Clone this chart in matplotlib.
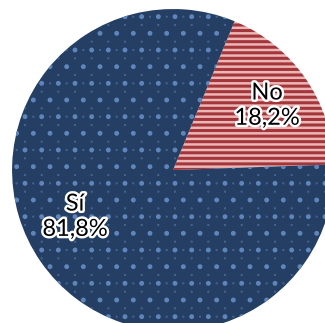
import numpy as np
import matplotlib
matplotlib.use("Agg")
import matplotlib.pyplot as plt
import matplotlib.patheffects as pe
import matplotlib.hatch as mhatch
from matplotlib.path import Path

labels = ["No", "Sí"]
values = [18.2, 81.8]
pct_text = ["18,2%", "81,8%"]

colors = ["#ebb7b6", "#243f63"]
hatch_cols = ["#a4353a", "#5f85ba"]
hatches = ["---", "."]


# dotted texture like the office "small confetti" fill: staggered rows,
# rows twice as dense as the columns
class DiamondDots(mhatch.HatchPatternBase):
	def __init__(self, hatch, density):
		self.n = hatch.count('.') * density
		circ = Path.unit_circle()
		self.sv = circ.vertices
		self.sc = circ.codes
		if self.n == 0:
			self.num_vertices = 0
		else:
			nshapes = (self.n + 1) * (self.n + 1) + self.n * self.n
			self.num_vertices = nshapes * len(self.sv)

	def set_vertices_and_codes(self, vertices, codes):
		step = 1.0 / self.n
		shape = self.sv * 0.002
		vparts = []
		cparts = []
		for row in range(2 * self.n + 1):
			if row % 2 == 0:
				cols = np.linspace(0, 1, self.n + 1)
			else:
				cols = np.linspace(step / 2, 1 - step / 2, self.n)
			for c in cols:
				vparts.append(shape + [c, row * step / 2])
				cparts.append(self.sc)
		np.concatenate(vparts, out=vertices)
		np.concatenate(cparts, out=codes)


mhatch._hatch_types = [DiamondDots if t is mhatch.SmallCircles else t
                       for t in mhatch._hatch_types]

plt.rcParams["hatch.linewidth"] = 1.1

fig = plt.figure(figsize=(3.25, 3.23), dpi=100)
ax = fig.add_axes([0, 0, 1, 1])

wedges, _ = ax.pie(values, colors=colors, startangle=2, counterclock=True,
                   radius=1, center=(0, 0))
for w, hc, h in zip(wedges, hatch_cols, hatches):
	w.set_edgecolor(hc)
	w.set_hatch(h)
	w.set_linewidth(0)
if hasattr(wedges[0], "set_hatch_linewidth"):
	wedges[0].set_hatch_linewidth(2.2)
	wedges[1].set_hatch_linewidth(1.1)

glow = [pe.withStroke(linewidth=3.5, foreground="white")]
pos = [(0.584, 0.40), (-0.609, -0.29)]
for lab, pt, (x, y) in zip(labels, pct_text, pos):
	ax.text(x, y, lab + "\n" + pt, ha="center", va="center", fontsize=17,
	        family="Lato", linespacing=1.25, color="black", path_effects=glow)

ax.set_xlim(-1.075, 0.944)
ax.set_ylim(-0.950, 1.056)
ax.set_aspect("auto")
ax.axis("off")

fig.savefig("out.png", dpi=100, facecolor="white")
